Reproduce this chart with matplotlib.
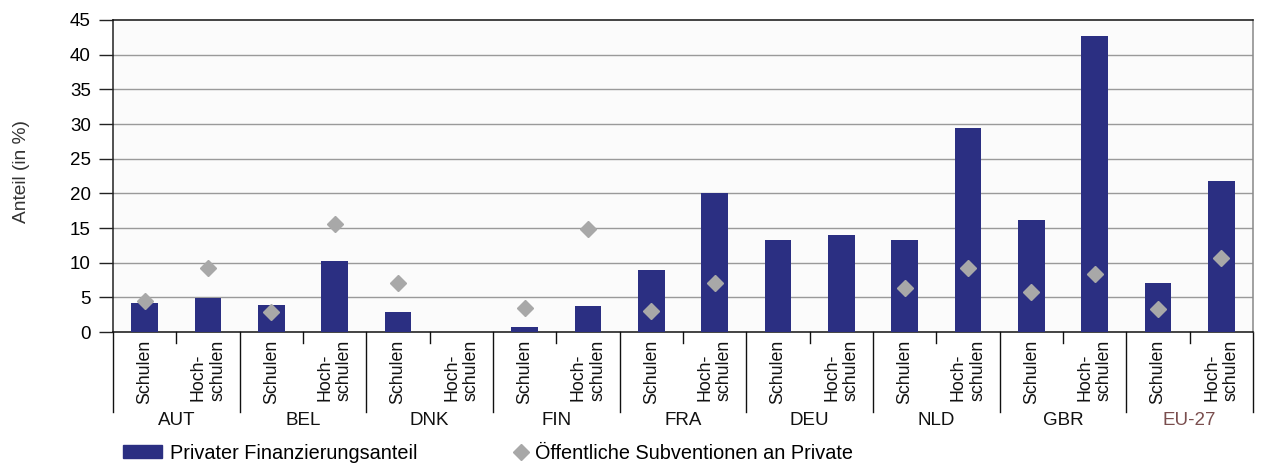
import matplotlib
matplotlib.use("Agg")
import matplotlib.pyplot as plt
from matplotlib.patches import Patch
from matplotlib.lines import Line2D
import numpy as np

plt.rcParams['font.family'] = ['Liberation Sans', 'DejaVu Sans']

countries = ["AUT", "BEL", "DNK", "FIN", "FRA", "DEU", "NLD", "GBR", "EU-27"]
sub_labels = ["Schulen", "Hoch-\nschulen"]
private_share = [4.2, 4.9, 3.9, 10.3, 2.9, np.nan, 0.7, 3.8, 9.0, 20.1,
                 13.3, 14.0, 13.2, 29.4, 16.1, 42.7, 7.1, 21.8]
public_subsidy = [4.5, 9.3, 2.9, 15.6, 7.1, np.nan, 3.5, 14.9, 3.0, 7.1,
                  np.nan, np.nan, 6.3, 9.3, 5.7, 8.4, 3.3, 10.7]
yticks = [0, 5, 10, 15, 20, 25, 30, 35, 40, 45]
legend_labels = ["Privater Finanzierungsanteil",
                 "Öffentliche Subventionen an Private"]

bar_color = "#2b2f82"
dia_color = "#a8a8a8"

W, H = 1261, 465
fig = plt.figure(figsize=(W / 100, H / 100), dpi=100)
ax_h_px = 312
ax_w_px = 1140
ax = fig.add_axes([113 / W, 1 - 332 / H, ax_w_px / W, ax_h_px / H])
ax.set_facecolor("#fbfbfb")

x = np.arange(len(private_share))
ax.bar(x, private_share, width=0.42, color=bar_color, zorder=3)
ax.plot(x, public_subsidy, linestyle="none", marker="D", markersize=8.5,
        color=dia_color, markeredgecolor=dia_color, zorder=4)

ax.set_xlim(-0.5, len(x) - 0.5)
ax.set_ylim(0, 45)
ax.set_yticks(yticks)
ax.set_yticklabels([str(t) for t in yticks], fontsize=13.5)
ax.tick_params(axis="y", length=10, width=1, pad=6, color="#222222")
ax.set_xticks([])
for t in yticks[1:-1]:
    ax.axhline(t, color="#9a9a9a", lw=1, zorder=1)

ax.spines["top"].set_color("#111111")
ax.spines["left"].set_color("#222222")
ax.spines["right"].set_color("#888888")
ax.spines["bottom"].set_color("#111111")
for s in ax.spines.values():
    s.set_linewidth(1.1)

ax.set_ylabel("Anteil (in %)", fontsize=13.8, color="#333333")
ax.yaxis.set_label_coords((30 - 113) / ax_w_px, 0.513)

def px(v):
    return v / ax_h_px

trans = ax.get_xaxis_transform()
n_groups = len(countries)
for g in range(n_groups + 1):
    xb = 2 * g - 0.5
    ax.plot([xb, xb], [0, -px(80)], transform=trans, color="#111111",
            lw=1, clip_on=False)
for g in range(n_groups):
    xm = 2 * g + 0.5
    ax.plot([xm, xm], [0, -px(11)], transform=trans, color="#111111",
            lw=1, clip_on=False)
    for k in range(2):
        ax.text(2 * g + k, -px(8), sub_labels[k], transform=trans,
                rotation=90, ha="center", va="top", fontsize=12.8,
                multialignment="left", linespacing=1.2, color="#111111")
    ax.text(2 * g + 0.5, -px(88), countries[g], transform=trans,
            ha="center", va="center", fontsize=13.5,
            color="#7a4e4e" if countries[g] == "EU-27" else "#111111")

leg1 = fig.legend([Patch(facecolor=bar_color, edgecolor=bar_color)],
                  [legend_labels[0]], loc="center left",
                  bbox_to_anchor=(123 / W, 1 - 453 / H), frameon=False,
                  fontsize=14.3, handlelength=1.95, handleheight=0.6,
                  handletextpad=0.4, borderpad=0, borderaxespad=0)
leg2 = fig.legend([Line2D([], [], linestyle="none", marker="D",
                          markersize=8, color=dia_color)],
                  [legend_labels[1]], loc="center left",
                  bbox_to_anchor=(513 / W, 1 - 453 / H), frameon=False,
                  fontsize=14.3, handlelength=0.8, handletextpad=0.3,
                  borderpad=0, borderaxespad=0)

fig.savefig("out.png", dpi=100)
